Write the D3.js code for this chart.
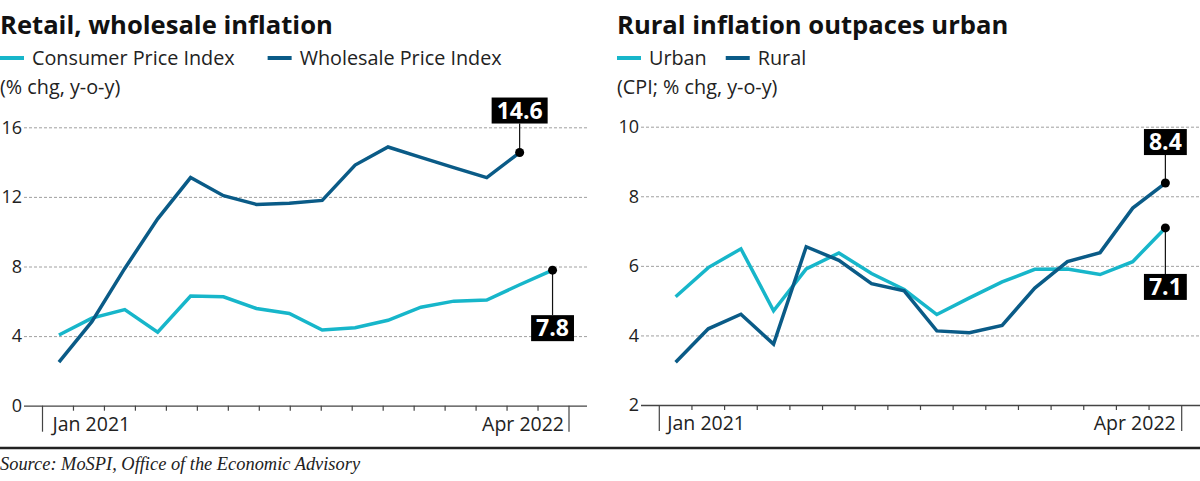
<!DOCTYPE html>
<html>
<head>
<meta charset="utf-8">
<script src="https://cdn.jsdelivr.net/npm/d3@7"></script>
<style>
  body { margin: 0; background: #fff; }
  svg { display: block; font-family: "Open Sans", "Noto Sans", sans-serif; }
</style>
</head>
<body>
<svg id="chart" width="1200" height="481"></svg>
<script>
// months shown on both charts
const months = ["Jan 2021", "Feb 2021", "Mar 2021", "Apr 2021", "May 2021", "Jun 2021",
                "Jul 2021", "Aug 2021", "Sep 2021", "Oct 2021", "Nov 2021", "Dec 2021",
                "Jan 2022", "Feb 2022", "Mar 2022", "Apr 2022"];

// left: retail vs wholesale (% chg, y-o-y)
const cpi = [4.06, 5.03, 5.52, 4.23, 6.30, 6.26, 5.59, 5.30, 4.35, 4.48, 4.91, 5.66, 6.01, 6.07, 6.95, 7.79];
const wpi = [2.51, 4.83, 7.89, 10.74, 13.11, 12.07, 11.57, 11.64, 11.80, 13.83, 14.87, 14.27, 13.68, 13.11, 14.55];

// right: urban vs rural CPI (% chg, y-o-y)
const urban = [5.11, 5.95, 6.49, 4.71, 5.91, 6.37, 5.78, 5.32, 4.60, 5.08, 5.54, 5.90, 5.91, 5.75, 6.12, 7.09];
const rural = [3.23, 4.19, 4.61, 3.75, 6.55, 6.16, 5.49, 5.28, 4.13, 4.08, 4.29, 5.36, 6.12, 6.38, 7.66, 8.38];

const leftYTicks = [0, 4, 8, 12, 16];
const rightYTicks = [2, 4, 6, 8, 10];
const xTickLabels = ["Jan 2021", "Apr 2022"];

const lightBlue = "#17b6ca";
const darkBlue = "#0a5b87";

const svg = d3.select("#chart");

const panels = [
  {
    title: "Retail, wholesale inflation",
    subtitle: "(% chg, y-o-y)",
    textX: 0,
    legend: [{ name: "Consumer Price Index", color: lightBlue },
             { name: "Wholesale Price Index", color: darkBlue }],
    legendGap: 33,
    series: [{ values: cpi, color: lightBlue, label: "7.8", dir: 1, gap: 45 },
             { values: wpi, color: darkBlue, label: "14.6", dir: -1, gap: 29 }],
    yDomain: [0, 16], yTicks: leftYTicks,
    top: 127.3, bottom: 405.7,
    gridLeft: 24, gridRight: 587,
    bandLeft: 42.5, bandRight: 569,
    tickCount: 18, labelIn: [10, 5]
  },
  {
    title: "Rural inflation outpaces urban",
    subtitle: "(CPI; % chg, y-o-y)",
    textX: 617,
    legend: [{ name: "Urban", color: lightBlue },
             { name: "Rural", color: darkBlue }],
    legendGap: 19,
    series: [{ values: urban, color: lightBlue, label: "7.1", dir: 1, gap: 46 },
             { values: rural, color: darkBlue, label: "8.4", dir: -1, gap: 28 }],
    yDomain: [2, 10], yTicks: rightYTicks,
    top: 126.7, bottom: 405,
    gridLeft: 641, gridRight: 1200,
    bandLeft: 659.3, bandRight: 1181.7,
    tickCount: 17, labelIn: [8, 6]
  }
];

panels.forEach(p => {
  const g = svg.append("g");

  const x = d3.scalePoint().domain(months).range([p.bandLeft, p.bandRight]).padding(0.5);
  const y = d3.scaleLinear().domain(p.yDomain).range([p.bottom, p.top]);

  // header
  g.append("text")
    .attr("x", p.textX).attr("y", 34)
    .attr("font-size", 25.6).attr("font-weight", 700).attr("fill", "#111")
    .text(p.title);

  let lx = p.textX;
  p.legend.forEach(item => {
    g.append("line")
      .attr("x1", lx).attr("x2", lx + 24)
      .attr("y1", 58).attr("y2", 58)
      .attr("stroke", item.color).attr("stroke-width", 4);
    const t = g.append("text")
      .attr("x", lx + 32).attr("y", 65)
      .attr("font-size", 19.8).attr("fill", "#222")
      .text(item.name);
    lx += 32 + t.node().getComputedTextLength() + p.legendGap;
  });

  g.append("text")
    .attr("x", p.textX).attr("y", 94)
    .attr("font-size", 19.8).attr("fill", "#222")
    .text(p.subtitle);

  // y axis with gridlines
  const yAxis = d3.axisLeft(y)
    .tickValues(p.yTicks)
    .tickSize(-(p.gridRight - p.gridLeft))
    .tickPadding(2);

  const ya = g.append("g")
    .attr("transform", "translate(" + p.gridLeft + ",0)")
    .call(yAxis);
  ya.select(".domain").remove();
  ya.selectAll(".tick line")
    .attr("stroke", d => d === p.yDomain[0] ? "#444" : "#888")
    .attr("stroke-width", d => d === p.yDomain[0] ? 1.3 : 0.8)
    .attr("stroke-dasharray", d => d === p.yDomain[0] ? null : "3,2");
  ya.selectAll(".tick text")
    .attr("font-size", 18).attr("fill", "#222")
    .attr("font-family", "'Open Sans', sans-serif");

  // month ticks along the bottom
  const tx = d3.scaleLinear().domain([0, p.tickCount - 1]).range([p.bandLeft, p.bandRight]);
  const tickIdx = d3.range(p.tickCount);
  g.selectAll(".mtick")
    .data(tickIdx)
    .enter()
    .append("line")
    .attr("class", "mtick")
    .attr("x1", d => tx(d)).attr("x2", d => tx(d))
    .attr("y1", p.bottom)
    .attr("y2", d => (d === 0 || d === p.tickCount - 1) ? p.bottom + 26 : p.bottom + 5)
    .attr("stroke", "#444").attr("stroke-width", 1.2);

  g.append("text")
    .attr("x", tx(0) + p.labelIn[0]).attr("y", p.bottom + 25)
    .attr("font-size", 19.5).attr("fill", "#222")
    .text(xTickLabels[0]);
  g.append("text")
    .attr("x", tx(p.tickCount - 1) - p.labelIn[1]).attr("y", p.bottom + 25)
    .attr("text-anchor", "end")
    .attr("font-size", 19.5).attr("fill", "#222")
    .text(xTickLabels[1]);

  // lines
  const line = d3.line()
    .x((d, i) => x(months[i]))
    .y(d => y(d));

  p.series.forEach(s => {
    g.append("path")
      .datum(s.values)
      .attr("d", line)
      .attr("fill", "none")
      .attr("stroke", s.color)
      .attr("stroke-width", 3.5);
  });

  // end-point callouts
  p.series.forEach(s => {
    const last = s.values.length - 1;
    const cx = x(months[last]);
    const cy = y(s.values[last]);
    const bh = 26;
    const boxEdge = cy + s.dir * s.gap;

    g.append("line")
      .attr("x1", cx).attr("x2", cx)
      .attr("y1", cy).attr("y2", boxEdge)
      .attr("stroke", "#111").attr("stroke-width", 1.2);

    g.append("circle")
      .attr("cx", cx).attr("cy", cy).attr("r", 4.5)
      .attr("fill", "#000");

    const boxTop = s.dir > 0 ? boxEdge : boxEdge - bh;
    const rect = g.append("rect")
      .attr("y", boxTop).attr("height", bh)
      .attr("fill", "#000");
    const t = g.append("text")
      .attr("x", cx).attr("y", boxTop + bh / 2 + 8)
      .attr("text-anchor", "middle")
      .attr("font-size", 23).attr("font-weight", 700)
      .attr("fill", "#fff")
      .text(s.label);
    const tw = t.node().getComputedTextLength();
    rect.attr("x", cx - tw / 2 - 5).attr("width", tw + 10);
  });
});

// footer
svg.append("line")
  .attr("x1", 0).attr("x2", 1200)
  .attr("y1", 448).attr("y2", 448)
  .attr("stroke", "#222").attr("stroke-width", 2.5);

svg.append("text")
  .attr("x", 0).attr("y", 470)
  .attr("font-family", "'Liberation Serif', serif")
  .attr("font-style", "italic")
  .attr("font-size", 18.4).attr("fill", "#222")
  .text("Source: MoSPI, Office of the Economic Advisory");
</script>
</body>
</html>
